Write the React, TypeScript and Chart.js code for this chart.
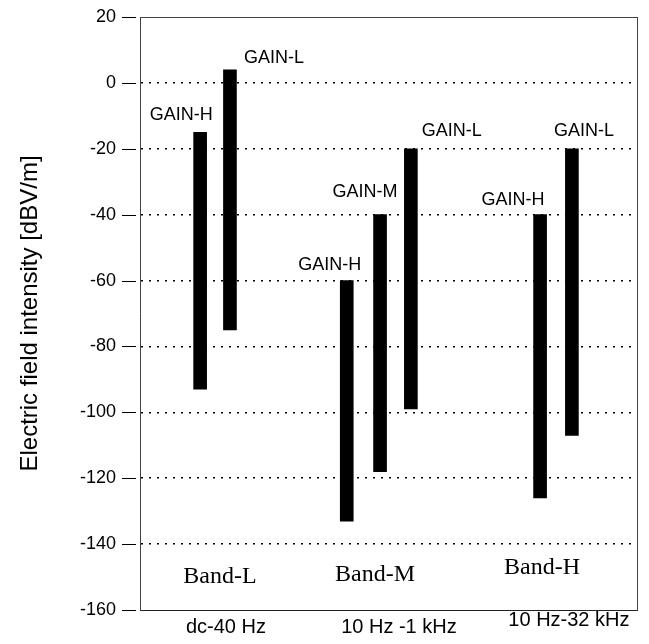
import React, { useEffect, useRef } from 'react';
import { Chart, registerables } from 'chart.js';

Chart.register(...registerables);

// ---- data ----
const bandNames = ['Band-L', 'Band-M', 'Band-H'];
const bandRanges = ['dc-40 Hz', '10 Hz -1 kHz', '10 Hz-32 kHz'];
const bandCenters = [16.1, 47.3, 80.9];
const rangeCenters = [17.3, 52.1, 86.3];

const gainNames = ['GAIN-H', 'GAIN-L', 'GAIN-H', 'GAIN-M', 'GAIN-L', 'GAIN-H', 'GAIN-L'];
const barPositions = [12.1, 18.1, 41.6, 48.3, 54.5, 80.5, 86.9];
const upperLimits = [-15, 4, -60, -40, -20, -40, -20];
const lowerLimits = [-93, -75, -133, -118, -99, -126, -107];

const yMin = -160;
const yMax = 20;
const yStep = 20;

// ---- style (label offsets in px) ----
const labelDx = [-19, 44, -17, -15, 41, -27, 12];
const labelDy = [-17, -12, -16, -23, -18, -15, -18];
const bandLabelDy = [-33, -35, -42];
const rangeLabelDy = [17, 17, 10];

const W = 649;
const H = 644;

const annotate = {
  id: 'annotate',
  afterDatasetsDraw(chart: any) {
    const ctx = chart.ctx;
    const meta = chart.getDatasetMeta(0);
    const xs = chart.scales.x;
    const ys = chart.scales.y;
    const area = chart.chartArea;
    ctx.save();
    // outer tick marks of the y axis
    ctx.strokeStyle = '#000';
    ctx.lineWidth = 1;
    ys.ticks.forEach((t: any) => {
      const py = Math.round(ys.getPixelForValue(t.value)) + 0.5;
      ctx.beginPath();
      ctx.moveTo(area.left - 18, py);
      ctx.lineTo(area.left - 4, py);
      ctx.stroke();
    });
    ctx.fillStyle = '#000';
    ctx.textAlign = 'center';
    ctx.textBaseline = 'middle';
    ctx.font = '18px "Liberation Sans", Arial, sans-serif';
    meta.data.forEach((el: any, i: number) => {
      const top = Math.min(el.y, el.base);
      ctx.fillText(gainNames[i], el.x + labelDx[i], top + labelDy[i]);
    });
    ctx.font = '24px "Liberation Serif", "Times New Roman", serif';
    bandNames.forEach((t, i) => {
      ctx.fillText(t, xs.getPixelForValue(bandCenters[i]), area.bottom + bandLabelDy[i]);
    });
    ctx.font = '20px "Liberation Sans", Arial, sans-serif';
    bandRanges.forEach((t, i) => {
      ctx.fillText(t, xs.getPixelForValue(rangeCenters[i]), area.bottom + rangeLabelDy[i]);
    });
    ctx.restore();
  },
};

export default function App() {
  const ref = useRef<HTMLCanvasElement | null>(null);
  useEffect(() => {
    if (!ref.current) return;
    const chart = new Chart(ref.current, {
      type: 'bar',
      data: {
        datasets: [
          {
            data: barPositions.map((x, i) => ({ x, y: [lowerLimits[i], upperLimits[i]] })) as any,
            backgroundColor: '#000',
            borderWidth: 0,
            barThickness: 13,
            xAxisID: 'x',
            yAxisID: 'y',
          },
        ],
      },
      options: {
        responsive: false,
        animation: false,
        layout: { padding: 0 },
        plugins: { legend: { display: false }, tooltip: { enabled: false } },
        scales: {
          x: {
            type: 'linear',
            min: 0,
            max: 100,
            offset: false,
            position: 'bottom',
            grid: { display: false, offset: false },
            ticks: { display: false },
            border: { display: true, color: '#222', width: 1 },
            afterFit: (s: any) => { s.height = 34; },
          },
          x2: {
            type: 'linear',
            min: 0,
            max: 100,
            offset: false,
            position: 'top',
            display: true,
            grid: { display: false, offset: false },
            ticks: { display: false },
            border: { display: true, color: '#444', width: 1 },
            afterFit: (s: any) => { s.height = 17; },
          },
          y: {
            type: 'linear',
            min: yMin,
            max: yMax,
            position: 'left',
            ticks: {
              stepSize: yStep,
              color: '#000',
              padding: 4,
              font: { size: 18, family: '"Liberation Sans", Arial, sans-serif' },
            },
            grid: {
              color: (c: any) => (c.tick && (c.tick.value === yMin || c.tick.value === yMax) ? 'rgba(0,0,0,0)' : '#000'),
              lineWidth: 1.5,
              drawTicks: true,
              tickLength: 20,
              tickColor: 'rgba(0,0,0,0)',
            },
            border: { display: true, color: '#444', width: 1, dash: [2, 6] },
            title: {
              display: true,
              text: 'Electric field intensity [dBV/m]',
              color: '#000',
              font: { size: 24, family: '"Liberation Sans", Arial, sans-serif' },
              padding: { top: 16, bottom: 0 },
            },
            afterFit: (s: any) => { s.width = 140; },
          },
          y2: {
            type: 'linear',
            min: yMin,
            max: yMax,
            position: 'right',
            display: true,
            grid: { display: false },
            ticks: { display: false },
            border: { display: true, color: '#444', width: 1 },
            afterFit: (s: any) => { s.width = 12; },
          },
        },
      },
      plugins: [annotate],
    });
    return () => chart.destroy();
  }, []);
  return (
    <div style={{ position: 'absolute', left: 0, top: 0, width: W, height: H, background: '#fff' }}>
      <canvas ref={ref} width={W} height={H} style={{ display: 'block' }} />
    </div>
  );
}
